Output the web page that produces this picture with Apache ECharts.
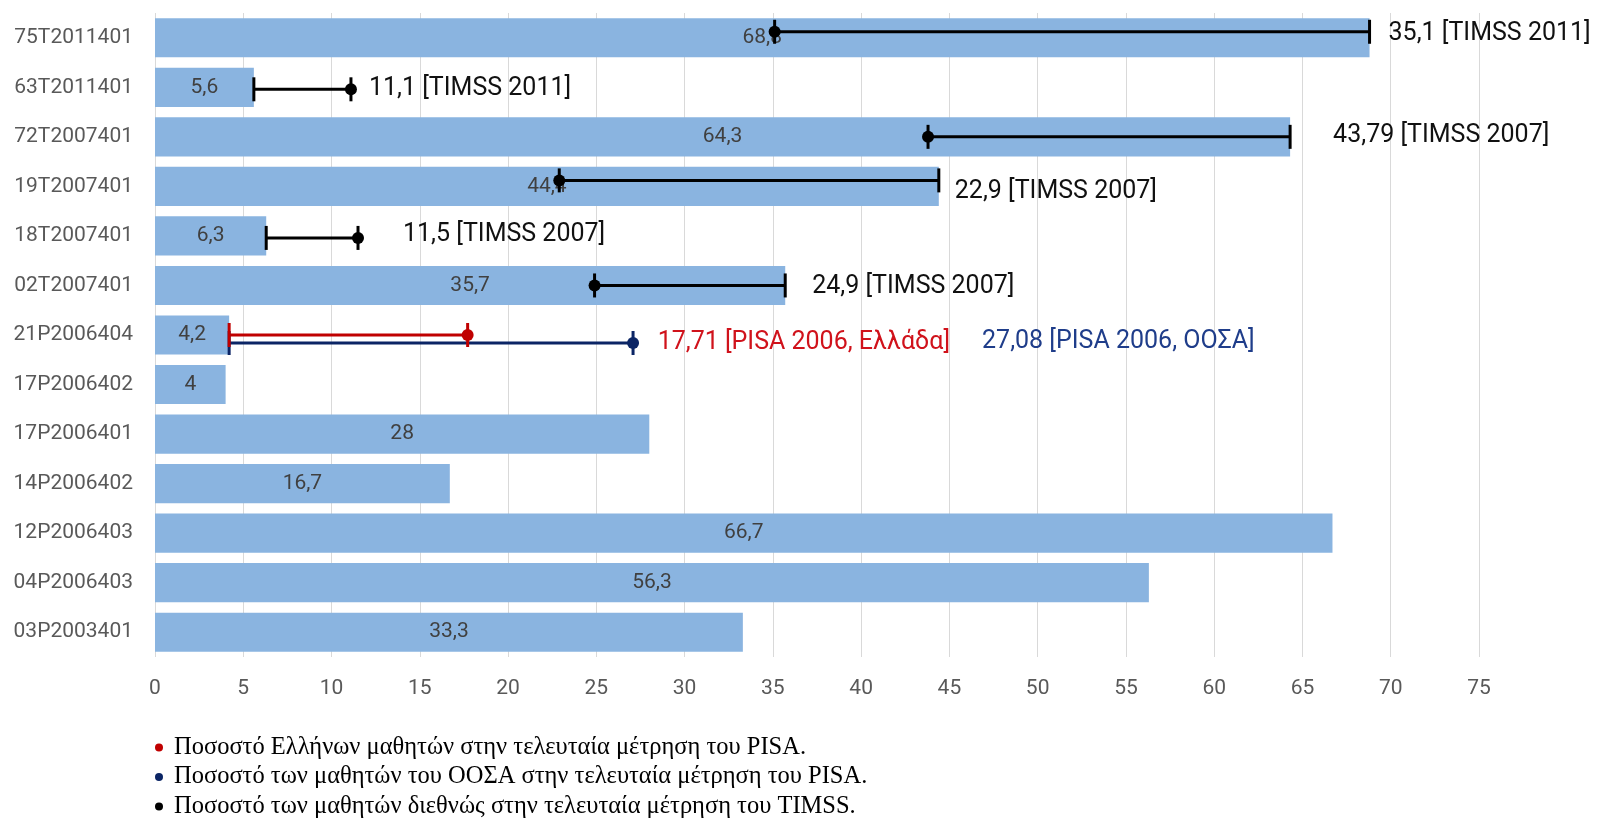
<!DOCTYPE html>
<html lang="el">
<head>
<meta charset="utf-8">
<title>Ποσοστά επιτυχίας ανά ερώτημα</title>
<script src="https://cdn.jsdelivr.net/npm/echarts@6/dist/echarts.min.js"></script>
<style>
  html, body { margin: 0; padding: 0; background: #ffffff; }
  #chart { width: 1600px; height: 820px; }
</style>
</head>
<body>
<div id="chart"></div>
<script>
// Item codes, top to bottom
const categories = [
  '75T2011401', '63T2011401', '72T2007401', '19T2007401', '18T2007401',
  '02T2007401', '21P2006404', '17P2006402', '17P2006401', '14P2006402',
  '12P2006403', '04P2006403', '03P2003401'
];

// Percentage of students answering correctly (bars)
const barValues = [68.8, 5.6, 64.3, 44.4, 6.3, 35.7, 4.2, 4, 28, 16.7, 66.7, 56.3, 33.3];

// International TIMSS percentage for the same item, and the TIMSS cycle
const timssIntl = [35.1, 11.1, 43.79, 22.9, 11.5, 24.9, null, null, null, null, null, null, null];
const timssCycle = ['TIMSS 2011', 'TIMSS 2011', 'TIMSS 2007', 'TIMSS 2007', 'TIMSS 2007', 'TIMSS 2007',
  null, null, null, null, null, null, null];

// PISA comparison values (Greece and OECD average)
const pisaGreece = [null, null, null, null, null, null, 17.71, null, null, null, null, null, null];
const pisaOecd   = [null, null, null, null, null, null, 27.08, null, null, null, null, null, null];
const pisaGreeceTag = 'PISA 2006, Ελλάδα';
const pisaOecdTag = 'PISA 2006, ΟΟΣΑ';

// Legend texts
const legendGreece = 'Ποσοστό Ελλήνων μαθητών στην τελευταία μέτρηση του PISA.';
const legendOecd = 'Ποσοστό των μαθητών του ΟΟΣΑ στην τελευταία μέτρηση του PISA.';
const legendTimss = 'Ποσοστό των μαθητών διεθνώς στην τελευταία μέτρηση του TIMSS.';

// Axis ticks
const xMin = 0, xMax = 75, xStep = 5;

// Layout tweaks for the comparison bars and their text boxes (pixels)
const lineShift  = { '75T2011401': -6, '63T2011401': 2, '19T2007401': -6, '18T2007401': 2 };
const textGap    = { '75T2011401': 19, '63T2011401': 18, '72T2007401': 43, '19T2007401': 16,
                     '18T2007401': 45, '02T2007401': 27 };
const textNudge  = { '75T2011401': -4, '63T2011401': 1, '72T2007401': -1, '19T2007401': 5,
                     '18T2007401': -1, '02T2007401': 1 };
const pisaLayout = {
  greece: { shift: 0, gap: 190, nudge: 8 },
  oecd:   { shift: 8, gap: 349, nudge: 7 }
};

const fmt = v => String(v).replace('.', ',');

function buildRows(values) {
  const rows = [];
  values.forEach((v, i) => {
    if (v != null) rows.push([barValues[i], i, v, i]);
  });
  return rows;
}

// Draws a horizontal range from the bar end to a comparison value, with end caps,
// a dot at the comparison value and a text box to the right.
function rangeRenderer(color, textColor, textFor, layoutFor) {
  return function (params, api) {
    const row = api.value(3);
    const lay = layoutFor(row);
    const from = api.coord([api.value(0), api.value(1)]);
    const to = api.coord([api.value(2), api.value(1)]);
    const y = from[1] + lay.shift;
    const half = 12;
    const right = Math.max(from[0], to[0]);
    const stroke = { stroke: color, lineWidth: 3 };
    return {
      type: 'group',
      children: [
        { type: 'line', shape: { x1: from[0], y1: y, x2: to[0], y2: y }, style: stroke },
        { type: 'line', shape: { x1: from[0], y1: y - half, x2: from[0], y2: y + half }, style: stroke },
        { type: 'line', shape: { x1: to[0], y1: y - half, x2: to[0], y2: y + half }, style: stroke },
        { type: 'circle', shape: { cx: to[0], cy: y, r: 6 }, style: { fill: color } },
        {
          type: 'text',
          x: right + lay.gap,
          y: from[1] + lay.nudge,
          style: {
            text: textFor(row, api.value(2)),
            fill: textColor,
            fontFamily: 'Roboto',
            fontSize: 25,
            align: 'left',
            verticalAlign: 'middle'
          }
        }
      ]
    };
  };
}

const chart = echarts.init(document.getElementById('chart'), null, { renderer: 'canvas' });

chart.setOption({
  backgroundColor: '#ffffff',
  animation: false,
  grid: { left: 155, right: 121, top: 13, bottom: 163, containLabel: false },
  xAxis: {
    type: 'value',
    min: xMin,
    max: xMax,
    interval: xStep,
    axisLine: { show: false },
    axisTick: { show: false },
    splitLine: { show: true, lineStyle: { color: '#d9d9d9', width: 1 } },
    axisLabel: { color: '#595959', fontFamily: 'Roboto', fontSize: 21, margin: 21 }
  },
  yAxis: {
    type: 'category',
    data: categories,
    inverse: true,
    axisLine: { show: false },
    axisTick: { show: false },
    axisLabel: { color: '#595959', fontFamily: 'Roboto', fontSize: 21, margin: 22 }
  },
  legend: {
    orient: 'vertical',
    left: 155,
    top: 735,
    height: 110,
    padding: 0,
    icon: 'circle',
    itemWidth: 20,
    itemHeight: 8,
    itemGap: 4.5,
    selectedMode: false,
    textStyle: { fontFamily: 'Liberation Serif', fontSize: 24.5, color: '#000000', lineHeight: 25 },
    data: [legendGreece, legendOecd, legendTimss]
  },
  series: [
    {
      type: 'bar',
      data: barValues,
      barCategoryGap: '21%',
      itemStyle: { color: '#8AB4E0' },
      label: {
        show: true,
        position: 'inside',
        color: '#404040',
        fontFamily: 'Roboto',
        fontSize: 21,
        formatter: p => fmt(p.value)
      },
      z: 1
    },
    {
      name: legendTimss,
      type: 'custom',
      itemStyle: { color: '#000000' },
      data: buildRows(timssIntl),
      encode: { x: [0, 2], y: 1 },
      renderItem: rangeRenderer('#000000', '#111111',
        (row, v) => fmt(v) + ' [' + timssCycle[row] + ']',
        row => ({
          shift: lineShift[categories[row]] || 0,
          gap: textGap[categories[row]] || 20,
          nudge: textNudge[categories[row]] || 0
        })),
      z: 3
    },
    {
      name: legendOecd,
      type: 'custom',
      itemStyle: { color: '#0b2565' },
      data: buildRows(pisaOecd),
      encode: { x: [0, 2], y: 1 },
      renderItem: rangeRenderer('#0b2565', '#1f3d8a',
        (row, v) => fmt(v) + ' [' + pisaOecdTag + ']',
        () => pisaLayout.oecd),
      z: 3
    },
    {
      name: legendGreece,
      type: 'custom',
      itemStyle: { color: '#c00000' },
      data: buildRows(pisaGreece),
      encode: { x: [0, 2], y: 1 },
      renderItem: rangeRenderer('#c00000', '#d0121b',
        (row, v) => fmt(v) + ' [' + pisaGreeceTag + ']',
        () => pisaLayout.greece),
      z: 4
    }
  ]
});
</script>
</body>
</html>
